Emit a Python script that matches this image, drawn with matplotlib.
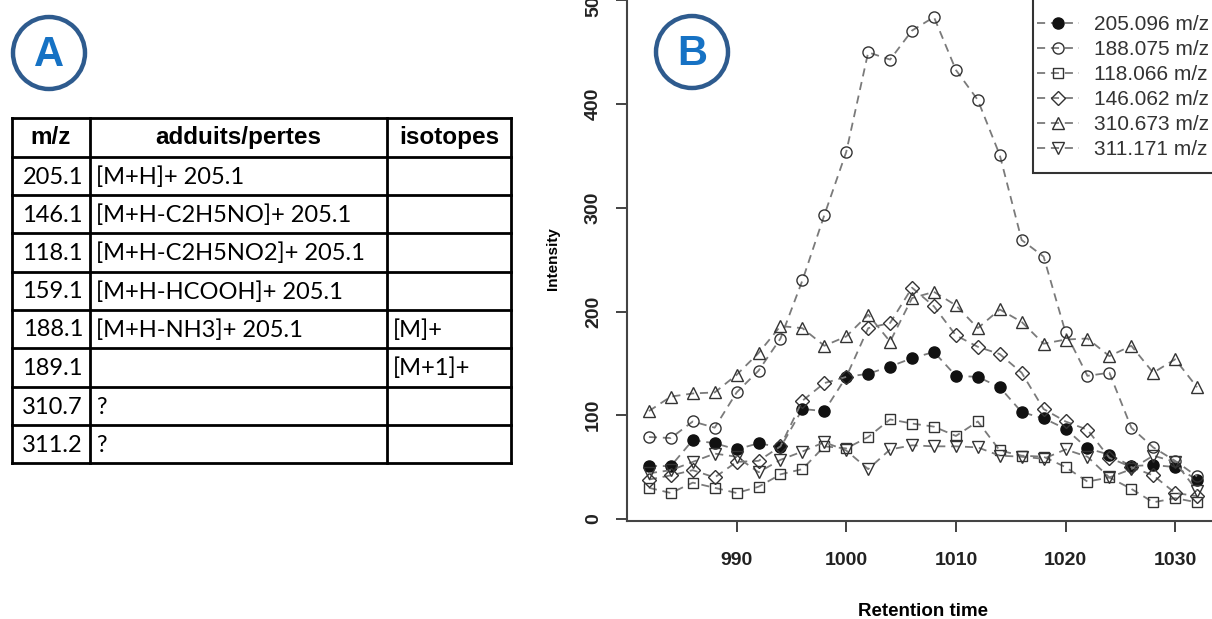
import matplotlib
matplotlib.use("Agg")
import matplotlib.pyplot as plt
from matplotlib.patches import Circle, Rectangle

# --- table (panel A) ---
col_mz = ["205.1", "146.1", "118.1", "159.1", "188.1", "189.1", "310.7", "311.2"]
col_adduits = ["[M+H]+ 205.1", "[M+H-C2H5NO]+ 205.1", "[M+H-C2H5NO2]+ 205.1",
               "[M+H-HCOOH]+ 205.1", "[M+H-NH3]+ 205.1", "", "?", "?"]
col_iso = ["", "", "", "", "[M]+", "[M+1]+", "", ""]
headers = ["m/z", "adduits/pertes", "isotopes"]

# --- extracted ion chromatograms (panel B) ---
rt = [982, 984, 986, 988, 990, 992, 994, 996, 998, 1000, 1002, 1004, 1006,
      1008, 1010, 1012, 1014, 1016, 1018, 1020, 1022, 1024, 1026, 1028, 1030, 1032]
i_205 = [51, 51, 76, 73, 67, 73, 69, 106, 104, 137, 140, 147, 155,
         161, 138, 137, 127, 103, 97, 87, 68, 62, 51, 52, 50, 38]
i_188 = [79, 78, 94, 88, 122, 143, 174, 230, 293, 354, 450, 443, 471,
         484, 433, 404, 351, 269, 253, 180, 138, 141, 88, 69, 56, 41]
i_118 = [30, 25, 35, 30, 25, 31, 43, 48, 70, 68, 79, 96, 92,
         89, 80, 94, 66, 61, 60, 50, 36, 40, 29, 16, 20, 16]
i_146 = [38, 42, 47, 40, 55, 56, 70, 114, 131, 137, 184, 189, 223,
         205, 177, 166, 159, 141, 106, 94, 86, 59, 50, 42, 25, 22]
i_310 = [104, 118, 121, 122, 139, 160, 186, 184, 167, 176, 197, 171, 213,
         219, 206, 184, 202, 190, 169, 173, 174, 157, 167, 141, 154, 127]
i_311 = [44, 47, 55, 63, 60, 45, 57, 65, 74, 66, 48, 67, 71,
         70, 70, 69, 61, 60, 58, 67, 60, 40, 48, 61, 55, 27]

series = [
    ("205.096 m/z", i_205, "o", True),
    ("188.075 m/z", i_188, "o", False),
    ("118.066 m/z", i_118, "s", False),
    ("146.062 m/z", i_146, "D", False),
    ("310.673 m/z", i_310, "^", False),
    ("311.171 m/z", i_311, "v", False),
]
msize = {"o": 8, "s": 7, "D": 7, "^": 9, "v": 9}

W, H = 1212, 619
fig = plt.figure(figsize=(W / 100, H / 100), dpi=100)

# overlay axes in pixel coordinates for the table and the badges
tax = fig.add_axes([0, 0, 1, 1])
tax.set_xlim(0, W)
tax.set_ylim(H, 0)
tax.axis("off")

xcols = [12, 90, 387, 511]
yrows = [118, 157, 195, 233, 272, 310, 348, 387, 425, 463]
for x in xcols:
    tax.plot([x, x], [yrows[0], yrows[-1]], color="black", lw=2.0, solid_capstyle="projecting")
for y in yrows:
    tax.plot([xcols[0], xcols[-1]], [y, y], color="black", lw=2.0, solid_capstyle="projecting")

hy = (yrows[0] + yrows[1]) / 2
for k, h in enumerate(headers):
    tax.text((xcols[k] + xcols[k + 1]) / 2, hy, h, ha="center", va="center",
             fontsize=17.5, fontweight="bold", family="Liberation Sans")

body_font = dict(fontsize=17, family="Lato", va="center")
for r in range(len(col_mz)):
    yc = (yrows[r + 1] + yrows[r + 2]) / 2 + 1
    tax.text(xcols[1] - 7, yc, col_mz[r], ha="right", **body_font)
    tax.text(xcols[1] + 6, yc, col_adduits[r], ha="left", **body_font)
    tax.text(xcols[2] + 6, yc, col_iso[r], ha="left", **body_font)

for cx, cy, letter in [(49, 53, "A"), (692, 52, "B")]:
    tax.add_patch(Circle((cx, cy), 36, fill=False, ec="#2E5B8E", lw=3.2))
    tax.text(cx, cy + 2, letter, ha="center", va="center", color="#1672C4",
             fontsize=30, fontweight="bold", family="Liberation Sans")

# chart axes, extending past the top and right edge like the cropped original
ax = fig.add_axes([627 / W, (H - 521) / H, (1219 - 627) / W, (521 + 4.7) / H])
ax.set_xlim(980, 1034)
ax.set_ylim(-2, 505)
ax.patch.set_alpha(0)

for label, vals, mk, filled in series:
    ax.plot(rt, vals, linestyle=(0, (4.5, 3.2)), color="#7a7a7a", lw=1.3,
            marker=mk, markersize=msize[mk],
            markerfacecolor="#111111" if filled else "none",
            markeredgecolor="#111111" if filled else "#333333",
            markeredgewidth=1.0, label=label)

ax.set_xticks([990, 1000, 1010, 1020, 1030])
ax.set_yticks([0, 100, 200, 300, 400, 500])
ax.tick_params(length=8, width=1.2, colors="#222222", labelsize=14)
ax.tick_params(axis="y", pad=10)
ax.tick_params(axis="x", pad=14)
for t in ax.get_xticklabels() + ax.get_yticklabels():
    t.set_fontfamily("Liberation Sans")
    t.set_fontweight("bold")
for t in ax.get_yticklabels():
    t.set_rotation(90)
    t.set_va("center")
for s in ax.spines.values():
    s.set_linewidth(1.5)
    s.set_color("#444444")

ax.set_xlabel("Retention time", fontsize=13.5, fontweight="bold",
              family="Liberation Sans", labelpad=25)
ax.set_ylabel("Intensity", fontsize=11, fontweight="bold",
              family="Liberation Sans", labelpad=18)

# legend box (its top is cropped off in the original)
ax.add_patch(Rectangle((1033, -20), 260, 193, transform=tax.transData, clip_on=False,
                       facecolor="white", edgecolor="#333333", lw=1.5, zorder=5))
leg = ax.legend(loc="upper left", bbox_to_anchor=(1037 / W, (H - 15) / H),
                bbox_transform=fig.transFigure, borderaxespad=0, frameon=False,
                prop={"family": "Liberation Sans", "size": 15},
                labelspacing=0.29, borderpad=0, handlelength=2.0, handletextpad=0.75)
leg.set_zorder(6)
for t in leg.get_texts():
    t.set_color("#333333")

fig.savefig("out.png", dpi=100)
